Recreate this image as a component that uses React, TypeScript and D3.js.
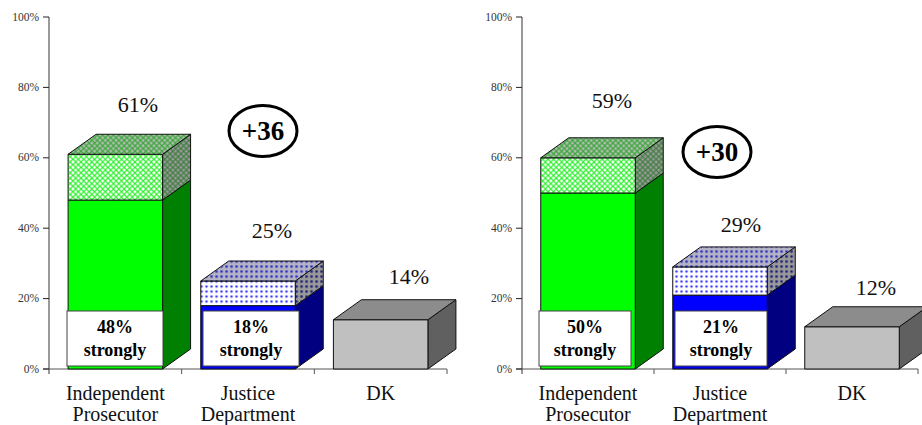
import React from "react";
import * as d3 from "d3";

const categories = [["Independent", "Prosecutor"], ["Justice", "Department"], ["DK"]];
const tickValues = [0, 20, 40, 60, 80, 100];
const leftTotals = [61, 25, 14];
const leftHeights = [61, 25, 14];
const leftStrong = [48, 18, 0];
const rightTotals = [59, 29, 12];
const rightHeights = [60, 29, 12];
const rightStrong = [50, 21, 0];
const leftNet = "+36";
const rightNet = "+30";

const FONT = "'Liberation Serif', 'Times New Roman', serif";
const DX = 28;
const DY = 20;

const palette = [
  { solid: "#00ff00", side: "#008000", pat: "gc", patTop: "gcTop", patSide: "gcSide" },
  { solid: "#0000ff", side: "#000080", pat: "bd", patTop: "bdTop", patSide: "bdSide" },
  { solid: "#c0c0c0", side: "#606060", top: "#8c8c8c" },
];

function Panel({ axisX, width, totals, heights, strong, net, ellipse, labelPos, boxXs }: any) {
  const y = d3.scaleLinear().domain([0, 100]).range([369, 17]);
  const band = d3.scaleBand<number>().domain([0, 1, 2]).range([axisX, axisX + width]).padding(0);
  const barW = 94.5;
  return (
    <g>
      <line x1={axisX} x2={axisX} y1={y(100)} y2={y(0) + 5} stroke="#555" strokeWidth={1.2} />
      <line x1={axisX - 6} x2={axisX + width} y1={y(0)} y2={y(0)} stroke="#555" strokeWidth={1.2} />
      {tickValues.map((t) => (
        <g key={t}>
          <line x1={axisX - 6} x2={axisX} y1={y(t)} y2={y(t)} stroke="#222" strokeWidth={1} />
          <text x={axisX - 10} y={y(t) + 3.5} textAnchor="end" fontSize={11.5} fill="#333" fontFamily={FONT}>{t}%</text>
        </g>
      ))}
      {[1, 2, 3].map((i) => (
        <line key={i} x1={band(0)! + i * band.bandwidth()} x2={band(0)! + i * band.bandwidth()} y1={y(0)} y2={y(0) + 5} stroke="#555" strokeWidth={1} />
      ))}
      {categories.map((lines, i) => {
        const x0 = band(i)! + (band.bandwidth() - barW) / 2;
        const x1 = x0 + barW;
        const p: any = palette[i];
        const yT = y(heights[i]);
        const yS = y(strong[i]);
        const y0 = y(0);
        const line = { stroke: "#111", strokeWidth: 1, strokeLinejoin: "round" as const };
        const quadSide = (a: number, b: number) => `M${x1},${a}L${x1 + DX},${a - DY}L${x1 + DX},${b - DY}L${x1},${b}Z`;
        return (
          <g key={i}>
            {strong[i] > 0 ? (
              <>
                <path d={quadSide(yS, y0)} fill={p.side} {...line} />
                <path d={quadSide(yT, yS)} fill={`url(#${p.patSide})`} {...line} />
                <rect x={x0} y={yS} width={barW} height={y0 - yS} fill={p.solid} {...line} />
                <rect x={x0} y={yT} width={barW} height={yS - yT} fill={`url(#${p.pat})`} {...line} />
                <path d={`M${x0},${yT}L${x0 + DX},${yT - DY}L${x1 + DX},${yT - DY}L${x1},${yT}Z`} fill={`url(#${p.patTop})`} {...line} />
              </>
            ) : (
              <>
                <path d={quadSide(yT, y0)} fill={p.side} {...line} />
                <rect x={x0} y={yT} width={barW} height={y0 - yT} fill={p.solid} {...line} />
                <path d={`M${x0},${yT}L${x0 + DX},${yT - DY}L${x1 + DX},${yT - DY}L${x1},${yT}Z`} fill={p.top} {...line} />
              </>
            )}
            {strong[i] > 0 && (
              <g>
                <rect x={boxXs[i]} y={311} width={boxXs[3]} height={55} fill="#fff" stroke="#444" strokeWidth={1} />
                <text x={boxXs[i] + boxXs[3] / 2} y={333} textAnchor="middle" fontSize={18} fontWeight="bold" fontFamily={FONT}>{strong[i]}%</text>
                <text x={boxXs[i] + boxXs[3] / 2} y={356} textAnchor="middle" fontSize={18} fontWeight="bold" fontFamily={FONT}>strongly</text>
              </g>
            )}
            <text x={labelPos[i][0]} y={labelPos[i][1]} textAnchor="middle" fontSize={22} fill="#111" fontFamily={FONT}>{totals[i]}%</text>
            {lines.map((l: string, k: number) => (
              <text key={k} x={band(i)! + band.bandwidth() / 2} y={400 + k * 21} textAnchor="middle" fontSize={20} fill="#111" fontFamily={FONT}>{l}</text>
            ))}
          </g>
        );
      })}
      <ellipse cx={ellipse[0]} cy={ellipse[1]} rx={34} ry={25.5} fill="#fff" stroke="#000" strokeWidth={3} />
      <text x={ellipse[0]} y={ellipse[1] + 9} textAnchor="middle" fontSize={27} fontWeight="bold" fontFamily={FONT}>{net}</text>
    </g>
  );
}

function CrossPattern({ id, bg, fg }: any) {
  return (
    <pattern id={id} width={5.4} height={5.4} patternUnits="userSpaceOnUse">
      <rect width={5.4} height={5.4} fill={bg} />
      <path d="M0,0L5.4,5.4M5.4,0L0,5.4" stroke={fg} strokeWidth={1.15} />
    </pattern>
  );
}

function DotPattern({ id, bg, halo, fg }: any) {
  return (
    <pattern id={id} width={5} height={5} patternUnits="userSpaceOnUse">
      <rect width={5} height={5} fill={bg} />
      <circle cx={1.5} cy={1.5} r={1.9} fill={halo} />
      <circle cx={1.5} cy={1.5} r={1.1} fill={fg} />
    </pattern>
  );
}

export default function App() {
  return (
    <svg width={922} height={425} style={{ position: "fixed", left: 0, top: 0, background: "#fff" }}>
      <defs>
        <CrossPattern id="gc" bg="#ffffff" fg="#2bf02b" />
        <CrossPattern id="gcTop" bg="#b0bcb0" fg="#3ca83c" />
        <CrossPattern id="gcSide" bg="#9a9a9a" fg="#3f7f3f" />
        <DotPattern id="bd" bg="#ffffff" halo="#d8d8ff" fg="#3a3af5" />
        <DotPattern id="bdTop" bg="#b4b4c4" halo="#8c8cc4" fg="#3030c0" />
        <DotPattern id="bdSide" bg="#9a9a9a" halo="#70708c" fg="#202078" />
      </defs>
      <Panel axisX={49} width={398} totals={leftTotals} heights={leftHeights} strong={leftStrong} net={leftNet} ellipse={[263, 131]}
        labelPos={[[138, 112], [272, 238], [409, 284]]} boxXs={[67, 203, 0, 96]} />
      <Panel axisX={522} width={396} totals={rightTotals} heights={rightHeights} strong={rightStrong} net={rightNet} ellipse={[717, 152]}
        labelPos={[[612, 108], [741, 232], [876, 295]]} boxXs={[539, 675, 0, 92]} />
    </svg>
  );
}
